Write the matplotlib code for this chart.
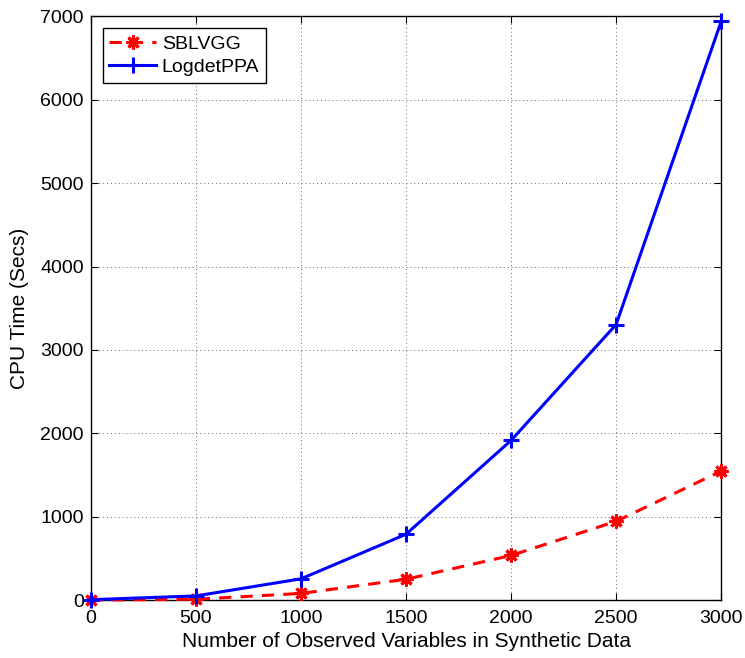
import numpy as np
import matplotlib.pyplot as plt

plt.rcParams['font.family'] = ['Liberation Sans', 'DejaVu Sans']

# problem sizes and timings
n_vars = [0, 500, 1000, 1500, 2000, 2500, 3000]
sblvgg = [0, 10, 80, 250, 535, 945, 1547]
logdetppa = [5, 50, 255, 790, 1915, 3305, 6940]

fig = plt.figure(figsize=(7.45, 6.58), dpi=100)
ax = fig.add_axes([0.122, 0.088, 0.846, 0.887])

ax.plot(n_vars, sblvgg, color='red', linestyle=(0, (4, 3)), linewidth=2.2,
        marker=(8, 2, 0), markersize=10, markeredgewidth=2.2, label='SBLVGG',
        clip_on=False, zorder=3)
ax.plot(n_vars, logdetppa, color='blue', linestyle='-', linewidth=2.2,
        marker='+', markersize=11, markeredgewidth=2.2, label='LogdetPPA',
        clip_on=False, zorder=4)

ax.set_xlim(0, 3000)
ax.set_ylim(0, 7000)
ax.set_xticks(np.arange(0, 3001, 500))
ax.set_yticks(np.arange(0, 7001, 1000))
ax.grid(True, linestyle=(0, (1, 3)), color='#666666', linewidth=0.7)
ax.tick_params(direction='in', top=True, right=True, labelsize=14, length=5)
ax.tick_params(axis='x', pad=7)
ax.tick_params(axis='y', pad=5)
for s in ax.spines.values():
    s.set_linewidth(1.0)

ax.set_xlabel('Number of Observed Variables in Synthetic Data', fontsize=15, labelpad=4)
ax.set_ylabel('CPU Time (Secs)', fontsize=15, labelpad=8)

leg = ax.legend(loc='upper left', fontsize=14, fancybox=False, framealpha=1,
                edgecolor='black', handlelength=2.4, borderaxespad=0.6,
                borderpad=0.35, labelspacing=0.3, handletextpad=0.3)
leg.get_frame().set_linewidth(1.0)

fig.savefig('out.png', dpi=100)
